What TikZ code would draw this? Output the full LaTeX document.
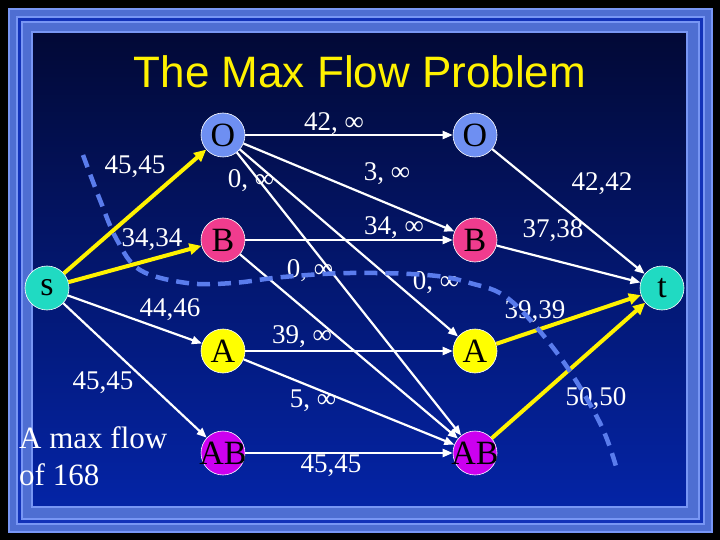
\documentclass[tikz,border=0pt]{standalone}
\usepackage{fontspec}
\setmainfont{Liberation Serif}
\newfontfamily\titlefont{Liberation Sans}
\usetikzlibrary{arrows.meta}
\definecolor{framemid}{HTML}{4E6ED2}
\definecolor{framelight}{HTML}{7896F4}
\definecolor{framedark}{HTML}{1232B8}
\definecolor{bgtop}{HTML}{020936}
\definecolor{bgmid}{HTML}{001A8E}
\definecolor{bgbot}{HTML}{0424A6}
\definecolor{cutblue}{HTML}{5A7CEC}
\definecolor{sinkcol}{HTML}{20DAC2}
\definecolor{ocol}{HTML}{6E8FF2}
\definecolor{bcol}{HTML}{F03C8E}
\definecolor{acol}{HTML}{FFFF00}
\definecolor{abcol}{HTML}{CC00F0}
\begin{document}
\begin{tikzpicture}[x=1pt,y=-1pt,
  vertex/.style={circle,draw=white,line width=0.6pt,minimum size=44pt,inner sep=0pt,
    font=\fontsize{34}{34}\selectfont},
  flow/.style={draw=white,line width=2.2pt,-{Triangle[length=10pt,width=8pt]}},
  full/.style={draw=yellow,line width=4pt,-{Triangle[length=12pt,width=11pt]}},
  lbl/.style={text=white,inner sep=0pt,font=\fontsize{27}{27}\selectfont},
  cutline/.style={draw=cutblue,line width=4.5pt,dash pattern=on 13pt off 8pt}]
\useasboundingbox (0,0) rectangle (720,540);
\fill[black] (0,0) rectangle (720,540);
\fill[framemid] (8,8) rectangle (713,533);
\draw[framelight,line width=2pt] (9,9) rectangle (712,532);
\draw[framelight,line width=1.5pt] (17,17) rectangle (704,524);
\draw[framedark,line width=3pt] (19.5,19.5) rectangle (701.5,521.5);
\draw[framelight,line width=1.5pt] (22,22) rectangle (699,519);
\shade[top color=bgtop,middle color=bgmid,bottom color=bgbot] (33,33) rectangle (686,506);
\draw[framelight,line width=2pt] (32,32) rectangle (687,507);
\node[font=\titlefont\fontsize{44}{44}\selectfont,text=yellow] (title) at (360,72) {The Max Flow Problem};
\node[vertex,fill=sinkcol] (s) at (47,288) {s};
\node[vertex,fill=ocol] (o1) at (223,135) {O};
\node[vertex,fill=bcol] (b1) at (223,240) {B};
\node[vertex,fill=acol] (a1) at (223,351) {A};
\node[vertex,fill=abcol] (ab1) at (223,453) {\makebox[0pt]{AB}};
\node[vertex,fill=ocol] (o2) at (475,135) {O};
\node[vertex,fill=bcol] (b2) at (475,240) {B};
\node[vertex,fill=acol] (a2) at (475,351) {A};
\node[vertex,fill=abcol] (ab2) at (475,453) {\makebox[0pt]{AB}};
\node[vertex,fill=sinkcol] (t) at (662,288) {t};
\path[full] (s) -- (o1);
\path[full] (s) -- (b1);
\path[flow] (s) -- (a1);
\path[flow] (s) -- (ab1);
\path[flow] (o1) -- (o2);
\path[flow] (o1) -- (b2);
\path[flow] (o1) -- (a2);
\path[flow] (o1) -- (ab2);
\path[flow] (b1) -- (b2);
\path[flow] (b1) -- (ab2);
\path[flow] (a1) -- (a2);
\path[flow] (a1) -- (ab2);
\path[flow] (ab1) -- (ab2);
\path[flow] (o2) -- (t);
\path[flow] (b2) -- (t);
\path[full] (a2) -- (t);
\path[full] (ab2) -- (t);
\node[lbl] (f1) at (135,167) {45,45};
\node[lbl] (f2) at (152,240) {34,34};
\node[lbl] (f3) at (170,310) {44,46};
\node[lbl] (f4) at (103,383) {45,45};
\node[lbl] (c1) at (334,124) {42, ∞};
\node[lbl] (c2) at (251,181) {0, ∞};
\node[lbl] (c3) at (387,174) {3, ∞};
\node[lbl] (c4) at (394,228) {34, ∞};
\node[lbl] (c5) at (310,271) {0, ∞};
\node[lbl] (c6) at (436,283) {0, ∞};
\node[lbl] (c7) at (302,337) {39, ∞};
\node[lbl] (c8) at (313,401) {5, ∞};
\node[lbl] (c9) at (331,466) {45,45};
\node[lbl] (g1) at (602,184) {42,42};
\node[lbl] (g2) at (553,231) {37,38};
\node[lbl] (g3) at (535,312) {39,39};
\node[lbl] (g4) at (596,399) {50,50};
\node[lbl,font=\fontsize{31}{37}\selectfont,align=left,anchor=west] (note) at (19,456) {A max flow\\of 168};
\draw[cutline] plot[smooth,tension=0.6] coordinates {(83,155) (100,200) (117,240) (140,270) (187,283)
  (233,283) (283,277) (350,273) (427,275) (470,283) (510,300) (560,357) (600,423) (617,470)};
\end{tikzpicture}
\end{document}
